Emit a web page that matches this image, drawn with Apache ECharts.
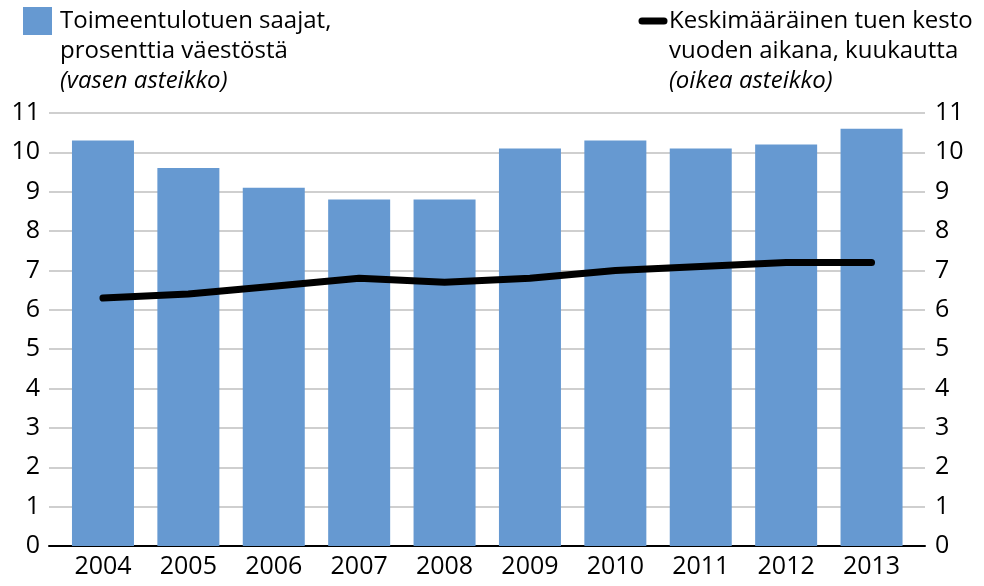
<!DOCTYPE html>
<html>
<head>
<meta charset="utf-8">
<script src="https://cdn.jsdelivr.net/npm/echarts@6/dist/echarts.min.js"></script>
<style>
  html, body { margin: 0; padding: 0; background: #fff; }
  #chart { width: 984px; height: 586px; }
</style>
</head>
<body>
<div id="chart"></div>
<script>
// vuodet ja arvot luettu kuvasta
const years = [2004, 2005, 2006, 2007, 2008, 2009, 2010, 2011, 2012, 2013];
const saajat = [10.3, 9.6, 9.1, 8.8, 8.8, 10.1, 10.3, 10.1, 10.2, 10.6];
const kesto = [6.3, 6.4, 6.6, 6.8, 6.7, 6.8, 7.0, 7.1, 7.2, 7.2];

const FONT = "'Open Sans', 'Noto Sans', sans-serif";
const chart = echarts.init(document.getElementById('chart'));

const legendLines = (x, lines) => lines.map((l, i) => ({
  type: 'text',
  style: {
    x: x, y: 21 + i * 30,
    text: l.text,
    font: (l.italic ? 'italic ' : '') + '24px ' + FONT,
    fill: '#000',
    textVerticalAlign: 'middle'
  }
}));

chart.setOption({
  animation: false,
  grid: { left: 49, right: 59, top: 113, bottom: 40 },
  xAxis: {
    type: 'value',
    min: 2003.368,
    max: 2013.626,
    axisLine: { show: true, lineStyle: { color: '#000', width: 2 } },
    axisTick: { show: false },
    splitLine: { show: false },
    axisLabel: {
      customValues: years,
      formatter: v => String(v),
      color: '#000',
      fontFamily: FONT,
      fontSize: 25,
      margin: 8
    }
  },
  yAxis: [
    {
      type: 'value', min: 0, max: 11, interval: 1,
      axisLine: { show: false },
      axisTick: { show: false },
      splitLine: { lineStyle: { color: '#bfbfbf', width: 1.5 } },
      axisLabel: { color: '#000', fontFamily: FONT, fontSize: 25, margin: 9 }
    },
    {
      type: 'value', min: 0, max: 11, interval: 1,
      axisLine: { show: false },
      axisTick: { show: false },
      splitLine: { show: false },
      axisLabel: { color: '#000', fontFamily: FONT, fontSize: 25, margin: 10 }
    }
  ],
  series: [
    {
      type: 'bar',
      data: years.map((y, i) => [y, saajat[i]]),
      barWidth: 62,
      itemStyle: { color: '#6699D1' },
      z: 2
    },
    {
      type: 'line',
      yAxisIndex: 1,
      data: years.map((y, i) => [y, kesto[i]]),
      symbol: 'none',
      lineStyle: { color: '#000', width: 7, cap: 'round', join: 'round' },
      z: 3
    }
  ],
  graphic: [
    { type: 'rect', shape: { x: 23, y: 7, width: 29, height: 28 }, style: { fill: '#6699D1' } },
    ...legendLines(60, [
      { text: 'Toimeentulotuen saajat,' },
      { text: 'prosenttia väestöstä' },
      { text: '(vasen asteikko)', italic: true }
    ]),
    { type: 'line', shape: { x1: 642, y1: 21, x2: 664, y2: 21 }, style: { stroke: '#000', lineWidth: 7, lineCap: 'round' } },
    ...legendLines(669, [
      { text: 'Keskimääräinen tuen kesto' },
      { text: 'vuoden aikana, kuukautta' },
      { text: '(oikea asteikko)', italic: true }
    ])
  ]
});
</script>
</body>
</html>
